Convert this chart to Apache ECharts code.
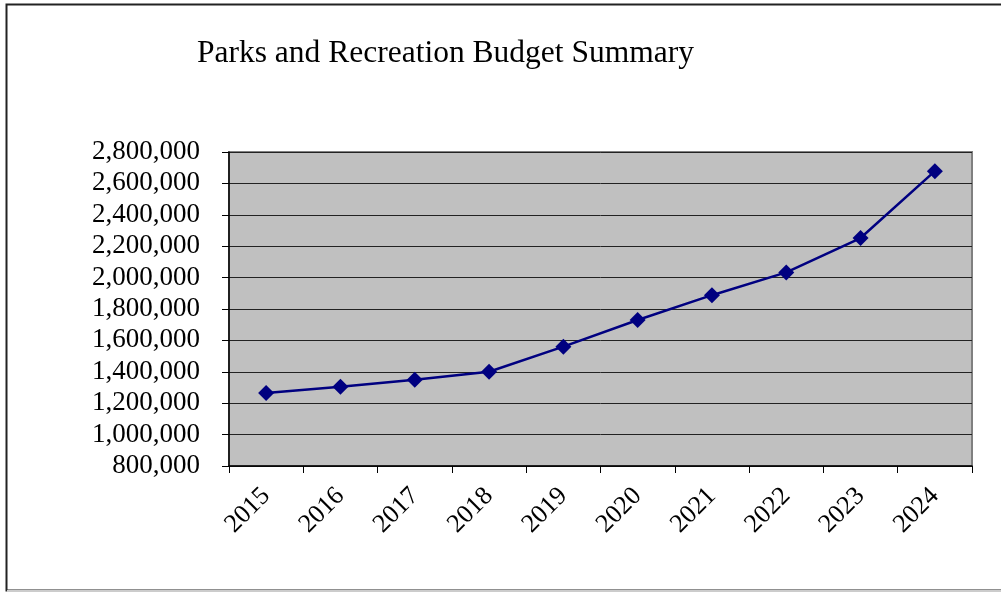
<!DOCTYPE html>
<html>
<head>
    <meta charset="utf-8">
    <script src="https://cdn.jsdelivr.net/npm/echarts@6/dist/echarts.min.js"></script>
    <style>
        html, body { margin: 0; padding: 0; background: #fff; }
        #main { width: 1001px; height: 593px; }
    </style>
</head>
<body>
<div id="main"></div>
<script type="text/javascript">
    // chart data
    var years = ['2015', '2016', '2017', '2018', '2019', '2020', '2021', '2022', '2023', '2024'];
    var budget = [1265000, 1305000, 1350000, 1400000, 1560000, 1730000, 1888000, 2033000, 2252000, 2678000];

    var myChart = echarts.init(document.getElementById('main'));
    var serif = '"Liberation Serif", "DejaVu Serif", serif';

    var option = {
        backgroundColor: '#fff',
        animation: false,
        title: {
            text: 'Parks and Recreation Budget Summary',
            left: 192,
            top: 33,
            textStyle: { fontFamily: serif, fontSize: 31.5, fontWeight: 'normal', color: '#000' }
        },
        graphic: [
            // outer chart frame
            { type: 'rect', shape: { x: 6.5, y: 4.5, width: 1010, height: 586 },
              style: { fill: 'none', stroke: '#222', lineWidth: 2 }, z: -1 },
            { type: 'line', shape: { x1: 7, y1: 591, x2: 1001, y2: 591 },
              style: { stroke: '#ccc', lineWidth: 2 } }
        ],
        grid: {
            left: 229, top: 152, width: 743, height: 314,
            show: true, backgroundColor: '#c0c0c0', borderColor: '#808080', borderWidth: 2
        },
        xAxis: {
            type: 'category',
            data: years,
            boundaryGap: true,
            axisLine: { lineStyle: { color: '#000', width: 1.5 } },
            axisTick: { show: true, length: 7, lineStyle: { color: '#000' } },
            axisLabel: {
                rotate: 45, margin: 26, color: '#000',
                fontFamily: serif, fontSize: 26
            }
        },
        yAxis: {
            type: 'value',
            min: 800000, max: 2800000, interval: 200000,
            axisLine: { show: true, lineStyle: { color: '#000', width: 1.5 } },
            axisTick: { show: true, length: 7, lineStyle: { color: '#000' } },
            splitLine: { lineStyle: { color: '#222', width: 1 } },
            axisLabel: {
                color: '#000', fontFamily: serif, fontSize: 27, margin: 29,
                formatter: function (v) { return v.toLocaleString('en-US'); }
            }
        },
        series: [{
            type: 'line',
            data: budget,
            symbol: 'diamond',
            symbolSize: 16,
            lineStyle: { color: '#000080', width: 2.5 },
            itemStyle: { color: '#000080' }
        }]
    };

    myChart.setOption(option);
</script>
</body>
</html>
